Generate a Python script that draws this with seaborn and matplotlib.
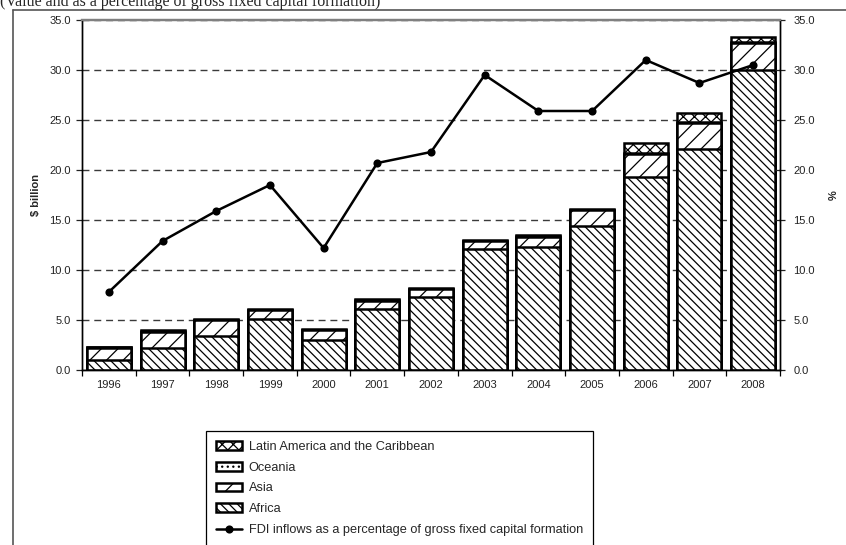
import numpy as np
import pandas as pd
import matplotlib
matplotlib.use("Agg")
import matplotlib.pyplot as plt
import seaborn as sns
from matplotlib.lines import Line2D
from matplotlib.ticker import FormatStrFormatter, FixedLocator, MultipleLocator

years = ["1996", "1997", "1998", "1999", "2000", "2001", "2002",
         "2003", "2004", "2005", "2006", "2007", "2008"]
africa = [1.0, 2.2, 3.4, 5.1, 3.0, 6.1, 7.3, 12.1, 12.3, 14.4, 19.3, 22.1, 30.0]
asia = [1.2, 1.6, 1.6, 0.9, 1.0, 0.8, 0.8, 0.8, 1.0, 1.6, 2.3, 2.6, 2.7]
oceania = [0.1, 0.1, 0.05, 0.05, 0.05, 0.1, 0.05, 0.05, 0.1, 0.05, 0.15, 0.15, 0.15]
latin = [0.05, 0.1, 0.05, 0.05, 0.05, 0.1, 0.05, 0.05, 0.1, 0.05, 0.95, 0.85, 0.45]
fdi_pct = [7.8, 12.9, 15.9, 18.5, 12.2, 20.7, 21.8, 29.5, 25.9, 25.9, 31.0, 28.7, 30.5]

series_names = ["Africa", "Asia", "Oceania", "Latin America and the Caribbean"]
line_name = "FDI inflows as a percentage of gross fixed capital formation"
caption = "(Value and as a percentage of gross fixed capital formation)"

sns.set_style("white")
plt.rcParams["font.family"] = ["Liberation Sans", "DejaVu Sans"]
plt.rcParams["hatch.linewidth"] = 0.9

df = pd.DataFrame({"year": years, "Africa": africa, "Asia": asia,
                   "Oceania": oceania, "Latin America and the Caribbean": latin,
                   "pct": fdi_pct})
cum = df[series_names].cumsum(axis=1)

fig = plt.figure(figsize=(8.46, 5.45), dpi=100)
ax = fig.add_axes([82 / 846, 1 - 370 / 545, 698 / 846, 350 / 545])

hatches = {"Africa": "\\\\\\\\", "Asia": "//", "Oceania": "...",
           "Latin America and the Caribbean": "xxx"}
handles = {}
# draw from the top cumulative down so each segment is visible
for name in reversed(series_names):
    sns.barplot(x=df["year"], y=cum[name], ax=ax, color="white",
                edgecolor="black", linewidth=1.8, hatch=hatches[name],
                width=0.82, saturation=1, label=name, zorder=3)
    handles[name] = ax.containers[-1]

ax.set_ylim(0, 35)
ax.set_xlim(-0.5, len(years) - 0.5)

ax2 = ax.twinx()
sns.pointplot(x=df["year"], y=df["pct"], ax=ax2, color="black",
              markers="o", markersize=4.5, linewidth=1.8, label=line_name)
ax2.set_ylim(0, 35)
ax2.set_xlim(-0.5, len(years) - 0.5)

# axes formatting
for a in (ax, ax2):
    a.yaxis.set_major_locator(MultipleLocator(5))
    a.yaxis.set_major_formatter(FormatStrFormatter("%.1f"))
ax.set_xticks(range(len(years)))
ax.set_xticklabels(years)
ax.xaxis.set_minor_locator(FixedLocator(np.arange(-0.5, len(years), 1.0)))
ax.tick_params(axis="x", which="major", length=0, labelsize=8, pad=7, colors="#222222")
ax.tick_params(axis="x", which="minor", length=4, width=0.9, direction="out", color="black", bottom=True)
ax.tick_params(axis="y", which="major", length=4, width=0.9, direction="out", labelsize=8, left=True,
               pad=4, colors="#222222")
ax2.tick_params(axis="y", which="major", length=7, width=0.9, direction="inout", labelsize=8, right=True,
                pad=6, colors="#222222")
ax.set_xlabel("")
ax.set_ylabel("$ billion", fontsize=8, fontweight="bold", labelpad=6)
ax2.set_ylabel("%", fontsize=8, fontweight="bold", labelpad=10)

ax.yaxis.grid(True, color="#3a3a3a", linestyle=(0, (5, 3.5)), linewidth=1.0, zorder=0)
ax.set_axisbelow(True)
ax.xaxis.grid(False)
ax2.grid(False)

for a in (ax, ax2):
    for s in ("left", "bottom", "right"):
        a.spines[s].set_color("black")
        a.spines[s].set_linewidth(1.0)
    a.spines["top"].set_color("#808080")
    a.spines["top"].set_linewidth(1.6)

# legend
order = ["Latin America and the Caribbean", "Oceania", "Asia", "Africa"]
leg_handles = [handles[n] for n in order] + [ax2.lines[0]]
leg_labels = order + [line_name]
if ax2.get_legend() is not None:
    ax2.get_legend().remove()
if ax.get_legend() is not None:
    ax.get_legend().remove()
leg = fig.legend(leg_handles, leg_labels, loc="upper left",
                 bbox_to_anchor=(206 / 846, 1 - 431 / 545), bbox_transform=fig.transFigure,
                 fontsize=9.2, frameon=True, fancybox=False, shadow=False,
                 edgecolor="black", framealpha=1, borderpad=0.75, labelspacing=0.7,
                 handlelength=2.1, handletextpad=0.5, borderaxespad=0)
leg.get_frame().set_linewidth(0.9)

# outer frame lines of the exhibit
fig.add_artist(Line2D([13 / 846, 13 / 846], [0, 1 - 10 / 545], transform=fig.transFigure,
                      color="#555555", linewidth=1.2))
fig.add_artist(Line2D([13 / 846, 1], [1 - 10 / 545, 1 - 10 / 545], transform=fig.transFigure,
                      color="#555555", linewidth=1.2))

# caption at the very top (partly cropped, as in the source exhibit)
fig.text(0.0, 1 - 5.5 / 545, caption, ha="left", va="baseline",
         fontsize=11.5, family=["Liberation Serif", "DejaVu Serif"])

fig.savefig("out.png", dpi=100)
